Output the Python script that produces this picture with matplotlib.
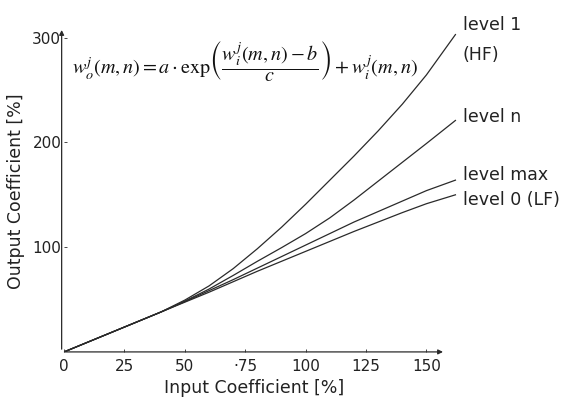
import matplotlib
matplotlib.use("Agg")
import matplotlib.pyplot as plt
import numpy as np

# values (input %, output %)
x_in = [0, 10, 20, 30, 40, 50, 60, 70, 80, 90, 100, 110, 120, 130, 140, 150, 162]
level_0 = [0, 9.5, 19, 28.5, 38, 47.5, 57, 67, 77, 86.5, 96, 105.5, 115, 124, 133, 141.5, 150]
level_max = [0, 9.5, 19, 28.5, 38, 48, 58.5, 69, 80, 91, 102, 113, 124, 134, 144, 154, 164]
level_n = [0, 9.5, 19, 28.5, 38, 48.5, 60, 73, 86.5, 99.5, 113, 128, 145, 163, 181, 199, 221]
level_1 = [0, 9.5, 19, 28.5, 38, 49.5, 63, 79.5, 98.5, 119, 141, 164, 187, 211, 236.5, 264.5, 303]

xticks = [0, 25, 50, 75, 100, 125, 150]
xtick_labels = ["0", "25", "50", "\u00b775", "100", "125", "150"]
yticks = [100, 200, 300]

plt.rcParams['mathtext.fontset'] = 'stix'

fig = plt.figure(figsize=(5.72, 3.99), dpi=100)
ax = fig.add_axes([0.112, 0.118, 0.718, 0.84])
ax.set_xlim(0, 170)
ax.set_ylim(0, 320)

lc = '#2a2a2a'
for ys in [level_0, level_max, level_n, level_1]:
    ax.plot(x_in, ys, color=lc, lw=0.9)

for s in ax.spines.values():
    s.set_visible(False)

# axes with arrow heads
ax.annotate('', xy=(158, 0), xytext=(-1, 0), xycoords='data',
            arrowprops=dict(arrowstyle='-|>', color=lc, lw=0.9,
                            mutation_scale=7), annotation_clip=False)
ax.annotate('', xy=(-1, 310), xytext=(-1, 0), xycoords='data',
            arrowprops=dict(arrowstyle='-|>', color=lc, lw=0.9,
                            mutation_scale=7), annotation_clip=False)

ax.set_xticks(xticks)
ax.set_xticklabels(xtick_labels)
ax.set_yticks(yticks)
ax.tick_params(axis='both', length=2, width=0.6, direction='in',
               labelsize=11, labelcolor='#222', color=lc)
ax.tick_params(axis='x', pad=5)
ax.tick_params(axis='y', pad=2)

ax.set_xlabel('Input Coefficient [%]', fontsize=12.5, color='#222')
ax.set_ylabel('Output Coefficient [%]', fontsize=12.5, color='#222')
ax.xaxis.set_label_coords(0.463, -0.082)
ax.yaxis.set_label_coords(-0.095, 0.48)

ax.text(3.3, 277, r'$w_o^j(m,n)=a\cdot\exp\!\left(\dfrac{w_i^j(m,n)-b}{c}\right)+w_i^j(m,n)$',
        fontsize=14.5, color='#111', va='center', ha='left')

lab = dict(fontsize=12.5, color='#222', ha='left', va='center', clip_on=False)
ax.text(165, 312, 'level 1', **lab)
ax.text(165, 283.5, '(HF)', **lab)
ax.text(165, 224.5, 'level n', **lab)
ax.text(165, 169, 'level max', **lab)
ax.text(165, 145, 'level 0 (LF)', **lab)

fig.savefig('out.png', dpi=100)
